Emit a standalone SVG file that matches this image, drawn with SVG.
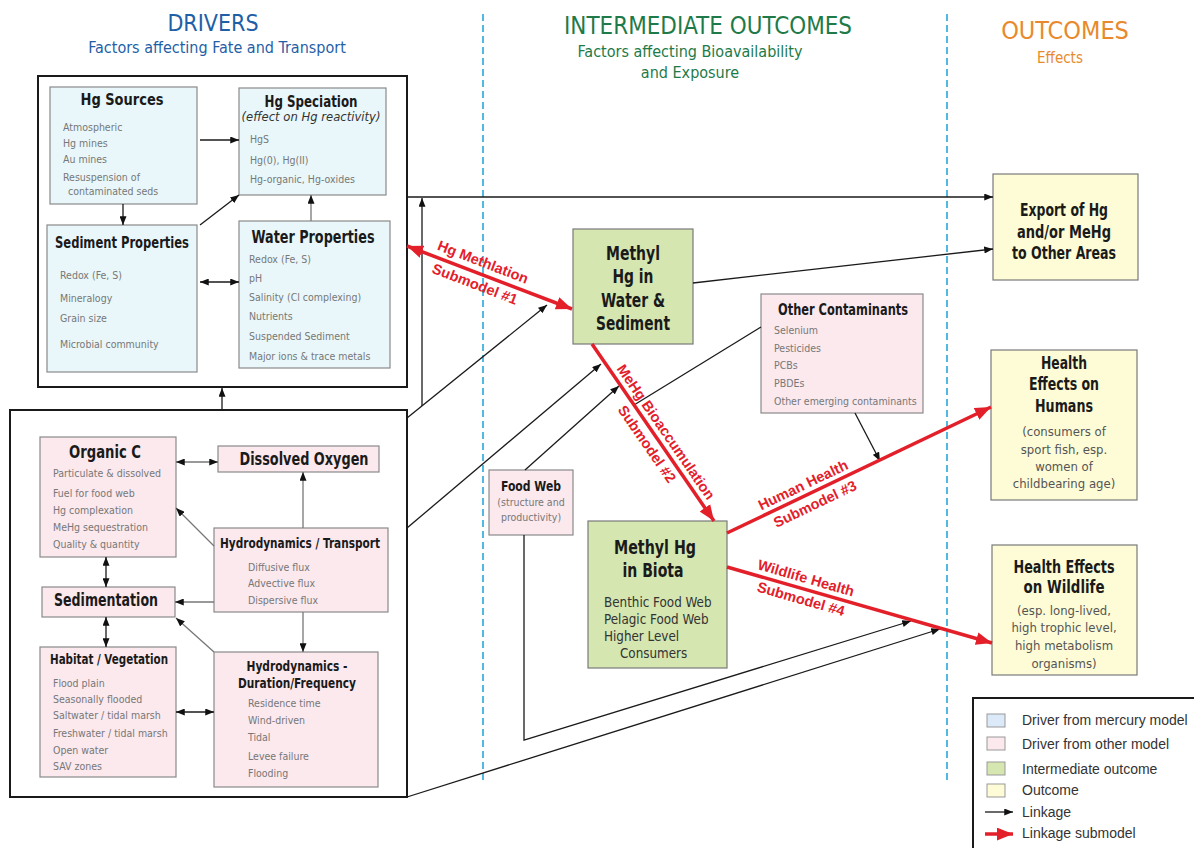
<svg xmlns="http://www.w3.org/2000/svg" width="1194" height="848" viewBox="0 0 1194 848">
<style>
text{font-family:"Liberation Sans Narrow","DejaVu Sans Condensed","Liberation Sans",sans-serif}
.hd{font-size:23px}
.sub{font-size:16px}
.ti{font-weight:bold;fill:#1a1a1a;text-anchor:middle}
.it{font-size:10.5px;fill:#777}
.mid{text-anchor:middle}
.blue{fill:#e9f7fa;stroke:#8a8a8a;stroke-width:1.2}
.pink{fill:#fbe9ee;stroke:#8a8a8a;stroke-width:1.2}
.green{fill:#d5e6b0;stroke:#7a7a7a;stroke-width:1.2}
.yel{fill:#fdfcd6;stroke:#7a7a7a;stroke-width:1.2}
.outer{fill:none;stroke:#1a1a1a;stroke-width:2}
.ln{fill:none;stroke:#1a1a1a;stroke-width:1.3}
.lg{fill:none;stroke:#777;stroke-width:1.3}
.rd{fill:none;stroke:#e3202a;stroke-width:3.5}
.dash{stroke:#2aa6de;stroke-width:1.6;stroke-dasharray:7 4}
.rl{font-family:"Liberation Sans",sans-serif;font-weight:bold;font-size:14.5px;fill:#e3202a;text-anchor:middle}
.leg{font-family:"Liberation Sans",sans-serif;font-size:14px;fill:#333}
.ot{font-size:13px;fill:#555;text-anchor:middle}
.bi{font-size:13.3px;fill:#333}
</style>
<defs>
<marker id="ab" viewBox="0 0 10 8" refX="10" refY="4" markerWidth="9" markerHeight="7" markerUnits="userSpaceOnUse" orient="auto-start-reverse"><path d="M0,0 L10,4 L0,8 z" fill="#111"/></marker>
<marker id="ar" viewBox="0 0 10 8" refX="10" refY="4" markerWidth="16" markerHeight="13" markerUnits="userSpaceOnUse" orient="auto-start-reverse"><path d="M0,0 L10,4 L0,8 z" fill="#e3202a"/></marker>
</defs>
<rect width="1194" height="848" fill="#fff"/>

<g id="headers">
<text x="213" y="31" class="hd mid" fill="#1f5fa6">DRIVERS</text>
<text x="217" y="53" class="sub mid" fill="#1f5fa6">Factors affecting Fate and Transport</text>
<text x="708" y="34" class="mid" font-size="24" fill="#1e7a48" textLength="288" lengthAdjust="spacingAndGlyphs">INTERMEDIATE OUTCOMES</text>
<text x="690" y="57" class="sub mid" fill="#1e7a48">Factors affecting Bioavailability</text>
<text x="690" y="78" class="sub mid" fill="#1e7a48">and Exposure</text>
<text x="1065" y="39" class="mid" font-size="25" fill="#e88a2c">OUTCOMES</text>
<text x="1060" y="63" class="mid" font-size="15" fill="#e88a2c">Effects</text>
</g>

<g id="dividers">
<line x1="483" y1="14" x2="483" y2="781" class="dash"/>
<line x1="947" y1="14" x2="947" y2="781" class="dash"/>
</g>

<g id="driver-mercury-group"><rect x="38" y="76" width="369" height="311" class="outer"/></g>
<g id="driver-other-group"><rect x="10" y="410" width="397" height="387" class="outer"/></g>

<g id="hg-sources">
<rect x="50" y="87" width="147" height="117" class="blue"/>
<text x="122" y="105" class="ti" font-size="16" textLength="83" lengthAdjust="spacingAndGlyphs">Hg Sources</text>
<text x="63" y="131" class="it">Atmospheric</text>
<text x="63" y="147" class="it">Hg mines</text>
<text x="63" y="163" class="it">Au mines</text>
<text x="63" y="181" class="it">Resuspension of</text>
<text x="68" y="195" class="it">contaminated seds</text>
</g>
<g id="hg-speciation">
<rect x="239" y="88" width="147" height="107" class="blue"/>
<text x="311" y="107" class="ti" font-size="15" textLength="93" lengthAdjust="spacingAndGlyphs">Hg Speciation</text>
<text x="311" y="121" class="mid" font-size="13" font-style="italic" fill="#333" textLength="139" lengthAdjust="spacingAndGlyphs">(effect on Hg reactivity)</text>
<text x="250" y="143" class="it">HgS</text>
<text x="250" y="164" class="it">Hg(0), Hg(II)</text>
<text x="250" y="183" class="it">Hg-organic, Hg-oxides</text>
</g>
<g id="sediment-properties">
<rect x="47" y="225" width="150" height="147" class="blue"/>
<text x="122" y="248" class="ti" font-size="16" textLength="134" lengthAdjust="spacingAndGlyphs">Sediment Properties</text>
<text x="60" y="279" class="it" font-size="11">Redox (Fe, S)</text>
<text x="60" y="302" class="it" font-size="11">Mineralogy</text>
<text x="60" y="322" class="it" font-size="11">Grain size</text>
<text x="60" y="348" class="it" font-size="11">Microbial community</text>
</g>
<g id="water-properties">
<rect x="239" y="221" width="151" height="147" class="blue"/>
<text x="313" y="243" class="ti" font-size="18" textLength="123" lengthAdjust="spacingAndGlyphs">Water Properties</text>
<text x="249" y="263" class="it">Redox (Fe, S)</text>
<text x="249" y="282" class="it">pH</text>
<text x="249" y="301" class="it">Salinity (Cl complexing)</text>
<text x="249" y="320" class="it">Nutrients</text>
<text x="249" y="340" class="it">Suspended  Sediment</text>
<text x="249" y="360" class="it">Major ions &amp; trace metals</text>
</g>

<g id="organic-c">
<rect x="40" y="437" width="136" height="120" class="pink"/>
<text x="105" y="458" class="ti" font-size="17" textLength="72" lengthAdjust="spacingAndGlyphs">Organic C</text>
<text x="53" y="477" class="it">Particulate &amp; dissolved</text>
<text x="53" y="497" class="it">Fuel for food web</text>
<text x="53" y="514" class="it">Hg complexation</text>
<text x="53" y="531" class="it">MeHg sequestration</text>
<text x="53" y="548" class="it">Quality &amp; quantity</text>
</g>
<g id="dissolved-oxygen">
<rect x="218" y="446" width="161" height="26" class="pink"/>
<text x="304" y="465" class="ti" font-size="17" textLength="129" lengthAdjust="spacingAndGlyphs">Dissolved Oxygen</text>
</g>
<g id="hydro-transport">
<rect x="214" y="528" width="174" height="84" class="pink"/>
<text x="300" y="548" class="ti" font-size="14" textLength="160" lengthAdjust="spacingAndGlyphs">Hydrodynamics / Transport</text>
<text x="248" y="571" class="it">Diffusive flux</text>
<text x="248" y="587" class="it">Advective flux</text>
<text x="248" y="604" class="it">Dispersive flux</text>
</g>
<g id="sedimentation">
<rect x="42" y="587" width="133" height="30" class="pink"/>
<text x="106" y="606" class="ti" font-size="17" textLength="104" lengthAdjust="spacingAndGlyphs">Sedimentation</text>
</g>
<g id="habitat">
<rect x="40" y="647" width="136" height="130" class="pink"/>
<text x="109" y="664" class="ti" font-size="14" textLength="118" lengthAdjust="spacingAndGlyphs">Habitat / Vegetation</text>
<text x="53" y="687" class="it">Flood plain</text>
<text x="53" y="703" class="it">Seasonally flooded</text>
<text x="53" y="719" class="it">Saltwater / tidal marsh</text>
<text x="53" y="737" class="it">Freshwater / tidal marsh</text>
<text x="53" y="754" class="it">Open water</text>
<text x="53" y="770" class="it">SAV zones</text>
</g>
<g id="hydro-duration">
<rect x="214" y="652" width="164" height="135" class="pink"/>
<text x="297" y="671" class="ti" font-size="14" textLength="101" lengthAdjust="spacingAndGlyphs">Hydrodynamics -</text>
<text x="297" y="688" class="ti" font-size="14" textLength="118" lengthAdjust="spacingAndGlyphs">Duration/Frequency</text>
<text x="248" y="707" class="it">Residence time</text>
<text x="248" y="724" class="it">Wind-driven</text>
<text x="248" y="741" class="it">Tidal</text>
<text x="248" y="760" class="it">Levee failure</text>
<text x="248" y="777" class="it">Flooding</text>
</g>

<g id="food-web">
<rect x="489" y="470" width="84" height="65" class="pink"/>
<text x="531" y="491" class="ti" font-size="13.5" textLength="60" lengthAdjust="spacingAndGlyphs">Food Web</text>
<text x="531" y="506" class="it mid" font-size="10">(structure and</text>
<text x="531" y="521" class="it mid" font-size="10">productivity)</text>
</g>
<g id="methyl-water">
<rect x="573" y="229" width="120" height="115" class="green"/>
<text x="633" y="260" class="ti" font-size="19" textLength="54" lengthAdjust="spacingAndGlyphs">Methyl</text>
<text x="633" y="283" class="ti" font-size="19" textLength="41" lengthAdjust="spacingAndGlyphs">Hg in</text>
<text x="633" y="307" class="ti" font-size="19" textLength="64" lengthAdjust="spacingAndGlyphs">Water &amp;</text>
<text x="633" y="330" class="ti" font-size="19" textLength="74" lengthAdjust="spacingAndGlyphs">Sediment</text>
</g>
<g id="methyl-biota">
<rect x="588" y="521" width="139" height="147" class="green"/>
<text x="655" y="554" class="ti" font-size="19" textLength="82" lengthAdjust="spacingAndGlyphs">Methyl Hg</text>
<text x="653" y="577" class="ti" font-size="19" textLength="61" lengthAdjust="spacingAndGlyphs">in Biota</text>
<text x="604" y="607" class="bi">Benthic Food Web</text>
<text x="604" y="624" class="bi">Pelagic Food Web</text>
<text x="604" y="641" class="bi">Higher Level</text>
<text x="620" y="658" class="bi">Consumers</text>
</g>
<g id="other-contaminants">
<rect x="761" y="294" width="162" height="119" class="pink"/>
<text x="843" y="315" class="ti" font-size="15" textLength="130" lengthAdjust="spacingAndGlyphs">Other Contaminants</text>
<text x="774" y="334" class="it">Selenium</text>
<text x="774" y="352" class="it">Pesticides</text>
<text x="774" y="369" class="it">PCBs</text>
<text x="774" y="387" class="it">PBDEs</text>
<text x="774" y="405" class="it">Other emerging contaminants</text>
</g>

<g id="export">
<rect x="993" y="174" width="145" height="106" class="yel"/>
<text x="1064" y="216" class="ti" font-size="17" textLength="88" lengthAdjust="spacingAndGlyphs">Export of Hg</text>
<text x="1064" y="238" class="ti" font-size="17" textLength="94" lengthAdjust="spacingAndGlyphs">and/or MeHg</text>
<text x="1064" y="259" class="ti" font-size="17" textLength="104" lengthAdjust="spacingAndGlyphs">to Other Areas</text>
</g>
<g id="humans">
<rect x="991" y="350" width="146" height="150" class="yel"/>
<text x="1064" y="369" class="ti" font-size="17" textLength="46" lengthAdjust="spacingAndGlyphs">Health</text>
<text x="1064" y="390" class="ti" font-size="17" textLength="70" lengthAdjust="spacingAndGlyphs">Effects on</text>
<text x="1064" y="412" class="ti" font-size="17" textLength="58" lengthAdjust="spacingAndGlyphs">Humans</text>
<text x="1064" y="436" class="ot">(consumers of</text>
<text x="1064" y="454" class="ot">sport fish, esp.</text>
<text x="1064" y="471" class="ot">women of</text>
<text x="1064" y="488" class="ot">childbearing age)</text>
</g>
<g id="wildlife">
<rect x="992" y="545" width="145" height="130" class="yel"/>
<text x="1064" y="573" class="ti" font-size="17" textLength="101" lengthAdjust="spacingAndGlyphs">Health Effects</text>
<text x="1064" y="593" class="ti" font-size="17" textLength="81" lengthAdjust="spacingAndGlyphs">on Wildlife</text>
<text x="1064" y="615" class="ot">(esp. long-lived,</text>
<text x="1064" y="632" class="ot">high trophic level,</text>
<text x="1064" y="650" class="ot">high metabolism</text>
<text x="1064" y="668" class="ot">organisms)</text>
</g>

<g id="connectors">
<path d="M200,140 H239" class="ln" marker-end="url(#ab)"/>
<path d="M123,204 V225" class="ln" marker-end="url(#ab)"/>
<path d="M200,225 L239,195" class="ln" marker-end="url(#ab)"/>
<path d="M311,221 V195" class="lg" marker-end="url(#ab)"/>
<path d="M200,282 H239" class="ln" marker-start="url(#ab)" marker-end="url(#ab)"/>
<path d="M222,410 V388" class="ln" marker-end="url(#ab)"/>
<path d="M176,462 H218" class="lg" marker-start="url(#ab)" marker-end="url(#ab)"/>
<path d="M303,528 V472" class="lg" marker-end="url(#ab)"/>
<path d="M214,546 L176,508" class="lg" marker-end="url(#ab)"/>
<path d="M214,602 H175" class="lg" marker-end="url(#ab)"/>
<path d="M303,612 V652" class="lg" marker-end="url(#ab)"/>
<path d="M106,557 V587" class="ln" marker-start="url(#ab)" marker-end="url(#ab)"/>
<path d="M106,617 V647" class="ln" marker-start="url(#ab)" marker-end="url(#ab)"/>
<path d="M214,652 L176,618" class="lg" marker-end="url(#ab)"/>
<path d="M176,712 H214" class="ln" marker-start="url(#ab)" marker-end="url(#ab)"/>
<path d="M407,197 H993" class="ln" marker-end="url(#ab)"/>
<path d="M407,418 L547,305" class="ln" marker-end="url(#ab)"/>
<path d="M422,406 V198" class="ln" marker-end="url(#ab)"/>
<path d="M407,528 L601,364" class="ln" marker-end="url(#ab)"/>
<path d="M525,470 L619,386" class="ln" marker-end="url(#ab)"/>
<path d="M761,327 L634,405" class="ln"/>
<path d="M693,283 L993,249" class="ln" marker-end="url(#ab)"/>
<path d="M855,413 L880,461" class="ln" marker-end="url(#ab)"/>
<path d="M524,535 V740 L911,621" class="ln" marker-end="url(#ab)"/>
<path d="M407,797 L940,629" class="ln" marker-end="url(#ab)"/>
<path d="M407,246 L572,309" class="rd" marker-start="url(#ar)" marker-end="url(#ar)"/>
<path d="M592,344 L714,521" class="rd" marker-end="url(#ar)"/>
<path d="M727,533 L991,407" class="rd" marker-end="url(#ar)"/>
<path d="M727,567 L992,643" class="rd" marker-end="url(#ar)"/>
</g>

<g id="submodel-labels">
<text class="rl" transform="translate(483,262) rotate(21)" y="5">Hg Methlation</text>
<text class="rl" transform="translate(475,284) rotate(21)" y="5">Submodel #1</text>
<text class="rl" transform="translate(666,432) rotate(55.4)" y="5">MeHg Bioaccumulation</text>
<text class="rl" transform="translate(647,444) rotate(55.4)" y="5">Submodel #2</text>
<text class="rl" transform="translate(803,485) rotate(-25.5)" y="5">Human Health</text>
<text class="rl" transform="translate(815,504) rotate(-25.5)" y="5">Submodel #3</text>
<text class="rl" transform="translate(806,578) rotate(16)" y="5">Wildlife Health</text>
<text class="rl" transform="translate(801,599) rotate(16)" y="5">Submodel #4</text>
</g>

<g id="legend">
<rect x="973" y="698" width="230" height="160" fill="#fff" stroke="#1a1a1a" stroke-width="2"/>
<rect x="987" y="714" width="18" height="13" fill="#dce9f8" stroke="#999"/>
<rect x="987" y="737" width="18" height="13" fill="#fce9ee" stroke="#999"/>
<rect x="987" y="762" width="18" height="13" fill="#d5e6b0" stroke="#999"/>
<rect x="987" y="784" width="18" height="13" fill="#fdfcd6" stroke="#999"/>
<path d="M985,812 H1013" class="ln" marker-end="url(#ab)"/>
<path d="M985,834 H1013" class="rd" marker-end="url(#ar)"/>
<text x="1022" y="725" class="leg">Driver from mercury model</text>
<text x="1022" y="749" class="leg">Driver from other model</text>
<text x="1022" y="774" class="leg">Intermediate outcome</text>
<text x="1022" y="795" class="leg">Outcome</text>
<text x="1022" y="817" class="leg">Linkage</text>
<text x="1022" y="838" class="leg">Linkage submodel</text>
</g>
</svg>
